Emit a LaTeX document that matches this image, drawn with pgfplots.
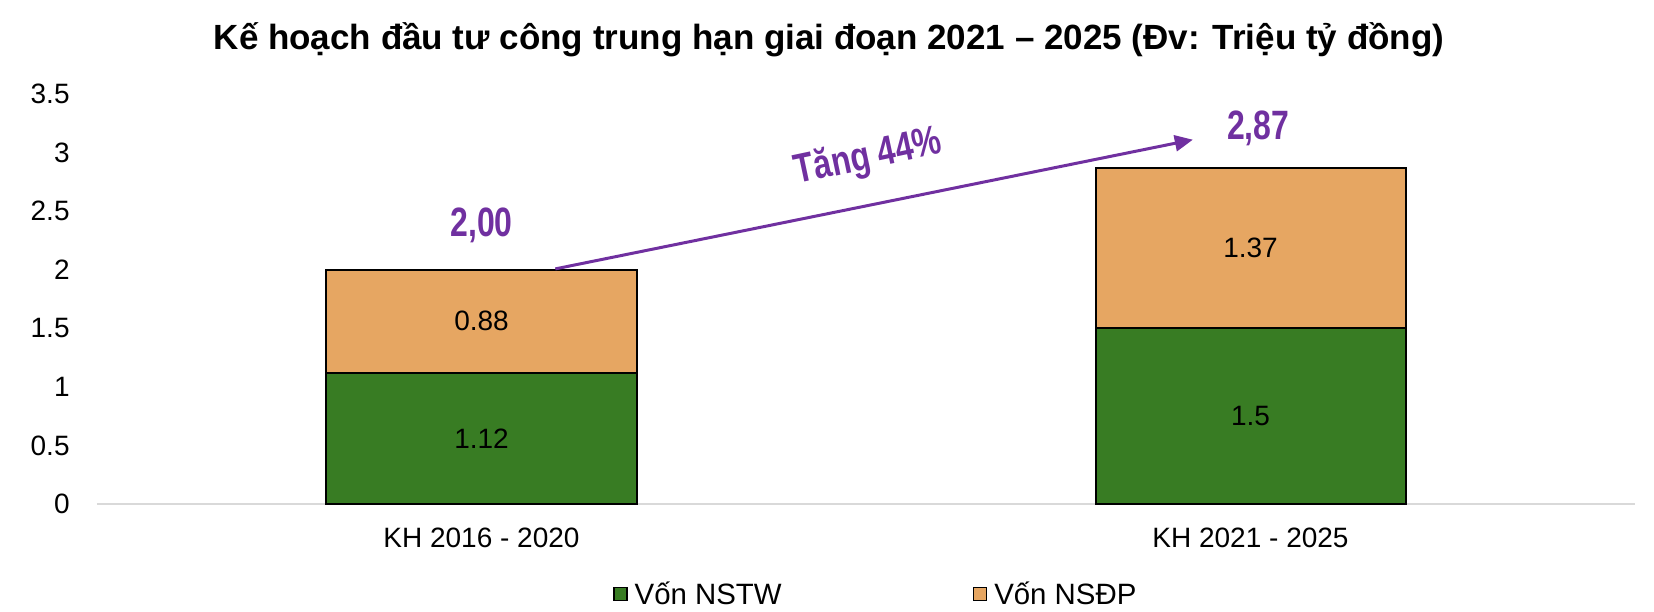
\documentclass[border=0pt]{standalone}
\usepackage{fontspec}
\setmainfont{Liberation Sans}
\newfontfamily\narrowfont[FakeStretch=0.78]{Liberation Sans}
\usepackage{pgfplots}
\pgfplotsset{compat=1.18}
\usetikzlibrary{arrows.meta}
\definecolor{cgreen}{RGB}{56,124,35}
\definecolor{corange}{RGB}{230,166,98}
\definecolor{cpurple}{RGB}{112,48,160}
\definecolor{caxis}{RGB}{217,217,217}
\begin{document}
\begin{tikzpicture}
\useasboundingbox (-48.5bp,-54bp) rectangle (778.5bp,252bp);
\begin{axis}[
  at={(0,0)}, anchor=south west,
  scale only axis,
  width=769bp, height=205bp,
  xmin=-0.5, xmax=1.5, ymin=0, ymax=3.5,
  ybar stacked, bar width=155bp,
  axis x line*=bottom, axis y line*=left,
  x axis line style={draw=caxis, line width=0.8bp, -},
  y axis line style={draw=none},
  major tick length=0pt,
  xtick={0,1},
  xticklabels={KH 2016 - 2020, KH 2021 - 2025},
  ytick={0,0.5,1,1.5,2,2.5,3,3.5},
  yticklabels={0,0.5,1,1.5,2,2.5,3,3.5},
  tick label style={font=\fontsize{14bp}{16bp}\selectfont},
  yticklabel style={anchor=east, inner sep=0pt, xshift=-13.5bp},
  xticklabel style={anchor=base, inner sep=0pt, yshift=-21.5bp},
  /pgf/number format/assume math mode=true,
  legend style={at={(0.507,-0.22)}, anchor=center, draw=none, fill=none,
    legend columns=2, font=\fontsize{14.7bp}{16bp}\selectfont,
    /tikz/every even column/.append style={column sep=93.5bp},
    inner sep=0pt},
  legend image code/.code={\draw[#1, draw=black, line width=0.7bp] (0bp,-3.25bp) rectangle (6.5bp,3.25bp);},
  legend cell align=left,
  clip=false,
]
\addplot[fill=cgreen, draw=black, line width=1bp] coordinates {(0,1.12) (1,1.5)};
\addlegendentry{\hspace{1.6bp}Vốn NSTW}
\addplot[fill=corange, draw=black, line width=1bp] coordinates {(0,0.88) (1,1.37)};
\addlegendentry{\hspace{1.6bp}Vốn NSĐP}
\coordinate (v1) at (axis cs:0,0.56);
\coordinate (v2) at (axis cs:0,1.56);
\coordinate (v3) at (axis cs:1,0.75);
\coordinate (v4) at (axis cs:1,2.185);
\coordinate (t1) at (axis cs:0,2.38);
\coordinate (t2) at (axis cs:1.01,3.21);
\coordinate (t3) at (axis cs:0.503,2.955);
\coordinate (a1) at (axis cs:0.096,2.007);
\coordinate (a2) at (axis cs:0.925,3.11);
\end{axis}
\node[font=\fontsize{14bp}{16bp}\selectfont] at (v1) {1.12};
\node[font=\fontsize{14bp}{16bp}\selectfont] at (v2) {0.88};
\node[font=\fontsize{14bp}{16bp}\selectfont] at (v3) {1.5};
\node[font=\fontsize{14bp}{16bp}\selectfont] at (v4) {1.37};
\node[font=\narrowfont\bfseries\fontsize{20.5bp}{24bp}\selectfont, text=cpurple] at (t1) {2,00};
\node[font=\narrowfont\bfseries\fontsize{20.5bp}{24bp}\selectfont, text=cpurple] at (t2) {2,87};
\node[font=\narrowfont\bfseries\fontsize{20.5bp}{24bp}\selectfont, text=cpurple, rotate=12, inner sep=0pt] at (t3) {Tăng 44\%};
\draw[cpurple, line width=1.5bp, -{Triangle[length=9bp,width=8bp]}] (a1) -- (a2);
\node[font=\bfseries\fontsize{17.5bp}{20bp}\selectfont] at (366bp,232bp) {Kế hoạch đầu tư công trung hạn giai đoạn 2021 – 2025 (Đv: Triệu tỷ đồng)};
\end{tikzpicture}
\end{document}
